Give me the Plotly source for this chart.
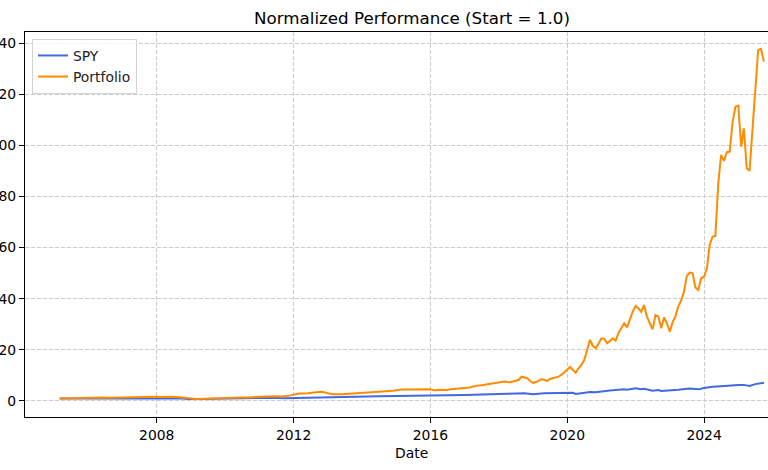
import pandas as pd
import plotly.graph_objects as go

spy_months = [
    "2005-02", "2005-08", "2006-02", "2006-08", "2007-02", "2007-08", "2007-10", "2008-02",
    "2008-08", "2008-11", "2009-02", "2009-05", "2009-08", "2009-11", "2010-04", "2010-07",
    "2010-12", "2011-04", "2011-09", "2011-12", "2012-04", "2012-09", "2012-12", "2013-05",
    "2013-12", "2014-06", "2014-12", "2015-06", "2015-09", "2015-12", "2016-02", "2016-06",
    "2016-12", "2017-06", "2017-12", "2018-01", "2018-03", "2018-09", "2018-12", "2019-04",
    "2019-08", "2019-12", "2020-02", "2020-03", "2020-06", "2020-08", "2020-10", "2020-12",
    "2021-03", "2021-06", "2021-08", "2021-09", "2021-12", "2022-02", "2022-03", "2022-06",
    "2022-08", "2022-09", "2022-12", "2023-03", "2023-07", "2023-10", "2023-12", "2024-03",
    "2024-06", "2024-09", "2024-12", "2025-02", "2025-04", "2025-06", "2025-09",
]
spy_values = [
    1.00, 1.02, 1.08, 1.10, 1.22, 1.25, 1.32, 1.15,
    1.10, 0.78, 0.65, 0.80, 0.90, 0.98, 1.05, 0.95,
    1.12, 1.22, 1.05, 1.15, 1.28, 1.35, 1.36, 1.55,
    1.76, 1.88, 2.00, 2.05, 1.90, 2.00, 1.95, 2.10,
    2.30, 2.50, 2.80, 2.95, 2.80, 3.05, 2.65, 3.00,
    3.05, 3.35, 3.20, 2.75, 3.20, 3.55, 3.45, 3.80,
    4.10, 4.40, 4.60, 4.40, 5.00, 4.60, 4.75, 4.00,
    4.30, 3.90, 4.10, 4.40, 4.90, 4.55, 5.10, 5.60,
    5.80, 6.10, 6.30, 6.30, 5.90, 6.60, 7.10,
]

port_months = [
    "2005-02", "2005-05", "2005-08", "2005-11", "2006-02", "2006-05", "2006-08", "2006-11",
    "2007-02", "2007-05", "2007-08", "2007-11", "2008-02", "2008-05", "2008-08", "2008-11",
    "2009-02", "2009-05", "2009-08", "2009-11", "2010-02", "2010-05", "2010-08", "2010-11",
    "2011-02", "2011-05", "2011-08", "2011-11", "2012-02", "2012-05", "2012-08", "2012-10",
    "2012-12", "2013-02", "2013-05", "2013-08", "2013-11", "2014-02", "2014-05", "2014-08",
    "2014-11", "2015-02", "2015-05", "2015-08", "2015-11", "2015-12",
    "2016-01", "2016-02", "2016-03", "2016-04", "2016-05", "2016-06",
    "2016-07", "2016-08", "2016-09", "2016-10", "2016-11", "2016-12",
    "2017-01", "2017-02", "2017-03", "2017-04", "2017-05", "2017-06",
    "2017-07", "2017-08", "2017-09", "2017-10", "2017-11", "2017-12",
    "2018-01", "2018-02", "2018-03", "2018-04", "2018-05", "2018-06",
    "2018-07", "2018-08", "2018-09", "2018-10", "2018-11", "2018-12",
    "2019-01", "2019-02", "2019-03", "2019-04", "2019-05", "2019-06",
    "2019-07", "2019-08", "2019-09", "2019-10", "2019-11", "2019-12",
    "2020-01", "2020-02", "2020-03", "2020-04", "2020-05", "2020-06",
    "2020-07", "2020-08", "2020-09", "2020-10", "2020-11", "2020-12",
    "2021-01", "2021-02", "2021-03", "2021-04", "2021-05", "2021-06",
    "2021-07", "2021-08", "2021-09", "2021-10", "2021-11", "2021-12",
    "2022-01", "2022-02", "2022-03", "2022-04", "2022-05", "2022-06",
    "2022-07", "2022-08", "2022-09", "2022-10", "2022-11", "2022-12",
    "2023-01", "2023-02", "2023-03", "2023-04", "2023-05", "2023-06",
    "2023-07", "2023-08", "2023-09", "2023-10", "2023-11", "2023-12",
    "2024-01", "2024-02", "2024-03", "2024-04", "2024-05", "2024-06",
    "2024-07", "2024-08", "2024-09", "2024-10", "2024-11", "2024-12",
    "2025-01", "2025-02", "2025-03", "2025-04", "2025-05", "2025-06",
    "2025-07", "2025-08", "2025-09",
]
port_values = [
    1.00, 1.10, 1.15, 1.30, 1.50, 1.40, 1.30, 1.40,
    1.40, 1.50, 1.50, 1.70, 1.60, 1.70, 1.50, 1.00,
    0.80, 0.90, 1.10, 1.30, 1.30, 1.40, 1.40, 1.60,
    1.80, 1.90, 1.80, 2.20, 2.90, 3.00, 3.40, 3.60,
    3.00, 2.60, 2.60, 2.80, 3.10, 3.30, 3.50, 3.80,
    4.00, 4.50, 4.60, 4.50, 4.70, 4.60,
    4.30, 4.20, 4.40, 4.30, 4.40, 4.30,
    4.60, 4.70, 4.80, 4.70, 4.90, 5.00,
    5.00, 5.30, 5.70, 6.00, 6.10, 6.20,
    6.40, 6.50, 6.70, 7.00, 7.10, 7.30,
    7.50, 7.60, 7.40, 7.30, 7.60, 7.90,
    8.30, 9.50, 9.30, 8.90, 7.80, 7.10,
    7.40, 8.00, 8.50, 8.30, 7.80, 8.60,
    8.90, 9.20, 9.50, 10.30, 11.10, 12.20,
    13.30, 12.20, 11.10, 12.80, 14.10, 16.00,
    19.50, 23.90, 21.50, 20.60, 22.50, 24.50,
    24.30, 22.60, 23.50, 24.50, 23.60, 26.50,
    28.50, 30.40, 28.80, 32.00, 34.90, 37.20,
    36.20, 34.90, 37.50, 33.00, 30.40, 28.00,
    33.60, 33.00, 28.40, 32.70, 30.40, 27.10,
    31.00, 33.00, 37.00, 39.20, 42.70, 48.90,
    50.20, 50.00, 44.40, 43.40, 48.00, 48.60,
    52.00, 61.00, 64.30, 64.50, 85.00, 96.20,
    93.90, 97.30, 97.50, 109.00, 115.10, 115.50,
    99.50, 106.60, 91.00, 90.00, 106.00, 122.00,
    137.30, 137.70, 132.70,
]

y_ticks = [0, 20, 40, 60, 80, 100, 120, 140]

# ---------------- figure ----------------
def month_end(months):
    return pd.to_datetime(months, format="%Y-%m") + pd.offsets.MonthEnd(0)

FONT = "DejaVu Sans"

fig = go.Figure()
fig.add_trace(go.Scatter(x=month_end(spy_months), y=spy_values, mode="lines",
                         name="SPY", line=dict(color="#4169E1", width=2)))
fig.add_trace(go.Scatter(x=month_end(port_months), y=port_values, mode="lines",
                         name="Portfolio", line=dict(color="#FF8C00", width=2)))

fig.update_layout(
    width=768, height=470,
    margin=dict(l=25, r=0, t=32, b=53),
    paper_bgcolor="white", plot_bgcolor="white",
    font=dict(family=FONT, size=13.9, color="black"),
    title=dict(text="Normalized Performance (Start = 1.0)", x=412 / 768, xref="container",
               xanchor="center", y=1 - 18 / 470, yref="container", yanchor="middle",
               font=dict(family=FONT, size=16.7, color="black")),
    showlegend=True,
    legend=dict(x=0.0094, y=0.982, xanchor="left", yanchor="top",
                bgcolor="rgba(255,255,255,0.8)", bordercolor="#d4d4d4", borderwidth=1,
                font=dict(family=FONT, size=13.9, color="#222222"), itemwidth=30),
    annotations=[dict(text="Date", xref="paper", yref="paper", x=(412 - 25) / 743,
                      y=(417 - 453) / 385, xanchor="center", yanchor="middle",
                      showarrow=False, font=dict(family=FONT, size=13.9, color="black"))],
)

fig.update_xaxes(
    type="date", range=["2004-02-24", "2025-11-13"],
    tick0="2000-01-01", dtick="M48", tickformat="%Y",
    showline=True, linecolor="black", linewidth=1.1, mirror=True,
    ticks="outside", ticklen=5, tickwidth=1.1, tickcolor="black",
    showgrid=True, gridcolor="#cccccc", gridwidth=1, griddash="4px,2px",
    zeroline=False, automargin=False,
)
fig.update_yaxes(
    range=[-6.26, 144.3], tickmode="array", tickvals=y_ticks,
    ticktext=[str(v) for v in y_ticks],
    showline=True, linecolor="black", linewidth=1.1, mirror=False,
    ticks="outside", ticklen=5, tickwidth=1.1, tickcolor="black",
    showgrid=True, gridcolor="#cccccc", gridwidth=1, griddash="4px,2px",
    zeroline=False, automargin=False,
)

fig.write_html("out.html",
               config={"displayModeBar": False},
               post_script="document.body.style.margin='0';document.body.style.overflow='hidden';")
